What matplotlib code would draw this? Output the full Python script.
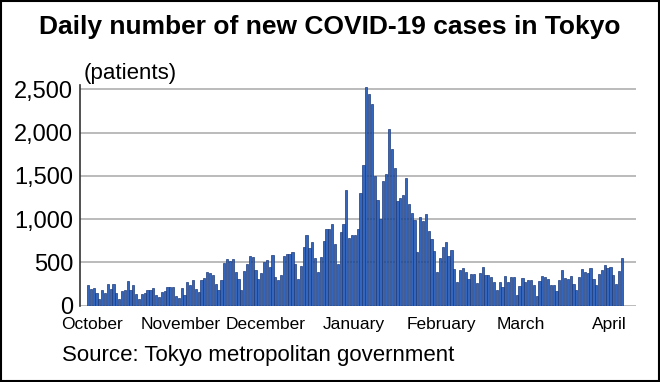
import numpy as np
import matplotlib
matplotlib.use('Agg')
import matplotlib.pyplot as plt
from matplotlib.patches import Rectangle


########## Data: daily new cases in Tokyo, Oct 1 2020 - Apr 7 2021 ##########
oct_cases = [235, 196, 207, 143, 78, 181, 142, 246, 194, 249, 146, 78, 166, 177, 284, 184,
             235, 132, 78, 139, 150, 185, 186, 203, 124, 102, 158, 171, 221, 215, 215]
nov_cases = [116, 87, 209, 122, 269, 242, 294, 189, 157, 293, 317, 393, 374, 352, 255, 180,
             298, 493, 534, 522, 539, 391, 314, 186, 401, 481, 570, 561, 418, 311]
dec_cases = [372, 500, 533, 449, 584, 327, 299, 352, 572, 602, 595, 621, 480, 305, 460, 678,
             822, 664, 736, 556, 392, 563, 748, 888, 884, 949, 708, 481, 856, 944, 1337]
jan_cases = [783, 814, 816, 884, 1300, 1620, 2520, 2450, 2330, 1494, 1219, 1000, 1440, 1520,
             2044, 1809, 1592, 1204, 1240, 1274, 1471, 1175, 1070, 986, 618, 1026, 973, 1064,
             868, 769, 633]
feb_cases = [393, 556, 676, 734, 577, 639, 429, 276, 412, 434, 387, 307, 369, 371, 266, 378,
             445, 353, 353, 327, 272, 178, 275, 213, 340, 270, 337, 329]
mar_cases = [121, 232, 316, 279, 301, 293, 237, 116, 290, 340, 335, 304, 239, 239, 175, 300,
             409, 323, 303, 342, 256, 187, 337, 420, 394, 376, 430, 313, 234, 364, 414]
apr_cases = [475, 440, 446, 355, 249, 399, 555]

months = ['October', 'November', 'December', 'January', 'February', 'March', 'April']
month_data = [oct_cases, nov_cases, dec_cases, jan_cases, feb_cases, mar_cases, apr_cases]
y_ticks = [0, 500, 1000, 1500, 2000, 2500]

cases = np.concatenate(month_data)
month_starts = np.cumsum([0] + [len(m) for m in month_data[:-1]])


########## Plot ##########
plt.rcParams['font.family'] = ['Liberation Sans', 'DejaVu Sans']

W, H = 660, 382
fig = plt.figure(figsize=(W / 100, H / 100), dpi=100)
ax = fig.add_axes([80 / W, 1 - 305.7 / H, (636 - 80) / W, (305.7 - 84.9) / H])

ax.bar(np.arange(len(cases)), cases, width=0.78, color='#3466be',
       edgecolor='#1b3a7a', linewidth=0.5, zorder=3)

ax.set_xlim(-2.8, 193)
ax.set_ylim(0, 2550)
ax.set_yticks(y_ticks)
ax.set_yticklabels([f'{v:,}' for v in y_ticks], fontsize=17)
ax.yaxis.grid(True, color='#b5b5b5', lw=1.3, zorder=0)
ax.tick_params(axis='y', length=0, pad=5)

ax.set_xticks(month_starts + 1.5)
ax.set_xticklabels(months, fontsize=12.5)
ax.tick_params(axis='x', length=0, pad=8)

for s in ['top', 'right', 'bottom']:
    ax.spines[s].set_visible(False)
ax.spines['left'].set_color('#333333')
ax.spines['left'].set_linewidth(1.2)

fig.text(0.5, 1 - 27 / H, 'Daily number of new COVID-19 cases in Tokyo',
         ha='center', va='center', fontsize=19, fontweight='bold')
fig.text(84 / W, 1 - 73 / H, '(patients)', ha='left', va='center', fontsize=16)
fig.text(62 / W, 1 - 355 / H, 'Source: Tokyo metropolitan government',
         ha='left', va='center', fontsize=16)

fig.patches.append(Rectangle((0.001, 0.002), 0.997, 0.995, transform=fig.transFigure,
                             fill=False, edgecolor='black', linewidth=1.5))

fig.savefig('out.png', dpi=100)
